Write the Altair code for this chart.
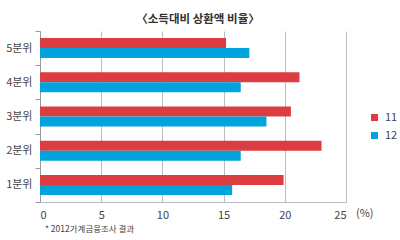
import altair as alt
import pandas as pd

categories = ["5분위", "4분위", "3분위", "2분위", "1분위"]
series_names = ["11", "12"]
values_11 = [15.2, 21.2, 20.5, 23.0, 19.9]
values_12 = [17.1, 16.4, 18.5, 16.4, 15.7]
x_ticks = [0, 5, 10, 15, 20, 25]

rows = []
for c, a, b in zip(categories, values_11, values_12):
    rows.append({"cat": c, "series": "11", "value": a})
    rows.append({"cat": c, "series": "12", "value": b})
df = pd.DataFrame(rows)

FONT = "Noto Sans CJK KR"
RED = "#db3d40"
BLUE = "#00a3db"

bars = alt.Chart(df).mark_bar(size=10).encode(
    x=alt.X("value:Q",
            scale=alt.Scale(domain=[0, 25], nice=False),
            axis=alt.Axis(values=x_ticks, title=None, grid=True, gridColor="#bdbdbd",
                          domainColor="#bdbdbd", tickSize=0, labelPadding=7,
                          labelFontSize=11, labelColor="#444", labelFont=FONT)),
    y=alt.Y("cat:N", sort=categories,
            scale=alt.Scale(paddingInner=0, paddingOuter=0),
            axis=alt.Axis(title=None, tickBand="extent", tickSize=5, tickColor="#999",
                          domainColor="#999", labelPadding=3, labelFontSize=11,
                          labelColor="#444", labelFont=FONT, grid=False)),
    yOffset=alt.YOffset("series:N", sort=series_names,
                        scale=alt.Scale(paddingInner=0, paddingOuter=0.71)),
    color=alt.Color("series:N", sort=series_names,
                    scale=alt.Scale(domain=series_names, range=[RED, BLUE]),
                    legend=alt.Legend(title=None, orient="none", legendX=329, legendY=81,
                                      symbolType="square", symbolSize=49,
                                      symbolStrokeWidth=0, labelFontSize=11,
                                      labelColor="#444", labelFont=FONT,
                                      rowPadding=6, labelOffset=5)),
)

foot = alt.Chart(pd.DataFrame({"t": ["* 2012가계금융조사 결과"]})).mark_text(
    align="left", baseline="middle", fontSize=8.5, font=FONT, color="#444"
).encode(x=alt.value(5), y=alt.value(198), text="t:N")

pct = alt.Chart(pd.DataFrame({"t": ["(%)"]})).mark_text(
    align="left", baseline="middle", fontSize=11, font=FONT, color="#444"
).encode(x=alt.value(316), y=alt.value(183), text="t:N")

chart = alt.layer(bars, foot, pct).properties(
    width=306, height=171,
    title=alt.TitleParams("〈소득대비 상환액 비율〉", fontSize=11.5, font=FONT,
                          fontWeight="bold", color="#333", anchor="middle",
                          offset=0, dx=5),
    autosize=alt.AutoSizeParams(type="none"),
    padding={"left": 40, "top": 31, "right": 54, "bottom": 38},
).configure_view(stroke=None)

chart.save("out.html", embed_options={"renderer": "svg", "actions": False})
